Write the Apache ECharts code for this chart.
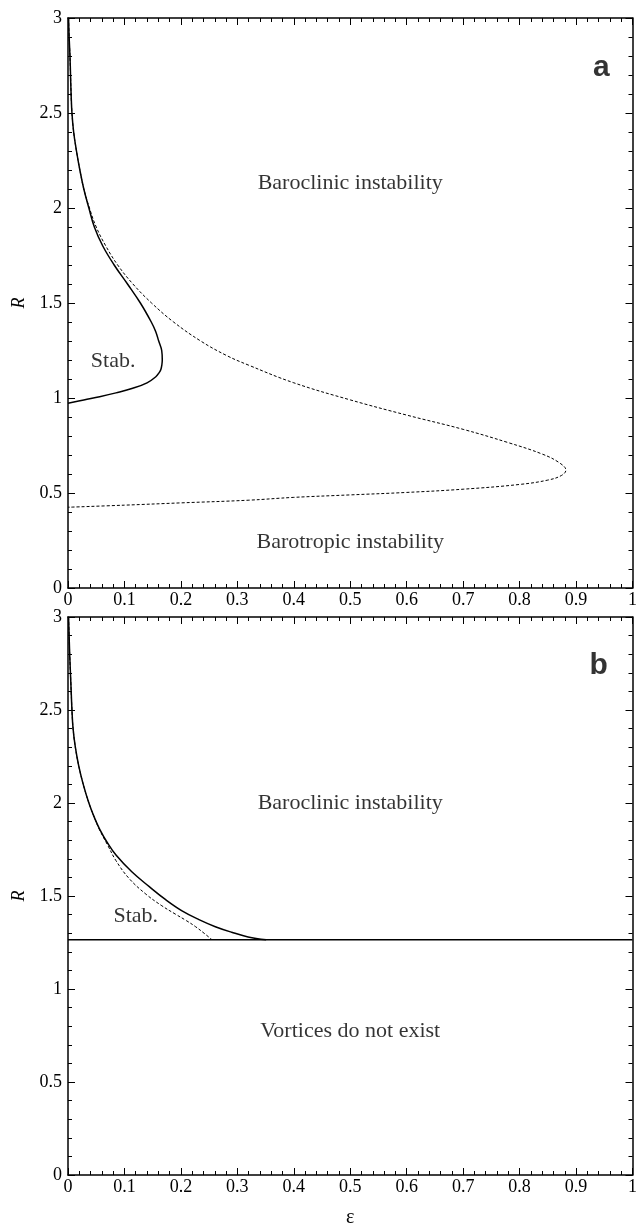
<!DOCTYPE html>
<html>
<head>
<meta charset="utf-8">
<script src="https://cdn.jsdelivr.net/npm/echarts@6/dist/echarts.min.js"></script>
<style>
html,body{margin:0;padding:0;background:#fff;}
#chart{width:640px;height:1229px;}
</style>
</head>
<body>
<div id="chart"></div>
<script>
// ---------- data (epsilon, R) ----------
const aSolid = [[0.001,3.0],[0.002,2.9],[0.0035,2.8],[0.0045,2.7],[0.0055,2.6],[0.007,2.5],[0.010,2.4],[0.015,2.3],[0.021,2.2],[0.028,2.1],[0.037,2.0],[0.0467,1.9],[0.0616,1.8],[0.0818,1.7],[0.1054,1.6],[0.1282,1.5],[0.1475,1.4],[0.1553,1.35],[0.1607,1.3],[0.166,1.25],[0.167,1.2],[0.1663,1.175],[0.1645,1.15],[0.1618,1.135],[0.1556,1.112],[0.14,1.08],[0.1146,1.051],[0.085,1.027],[0.0561,1.007],[0.028,0.99],[0.0,0.972]];
const aDashed = [[0.001,3.0],[0.002,2.9],[0.0035,2.8],[0.0045,2.7],[0.0055,2.6],[0.007,2.5],[0.010,2.4],[0.015,2.3],[0.021,2.2],[0.028,2.1],[0.038,2.0],[0.050,1.9],[0.067,1.8],[0.088,1.7],[0.115,1.6],[0.148,1.5],[0.187,1.4],[0.235,1.3],[0.28,1.225],[0.319,1.174],[0.4,1.08],[0.5,0.99],[0.6,0.91],[0.7,0.835],[0.78,0.765],[0.84,0.705],[0.87,0.66],[0.882,0.62],[0.874,0.592],[0.85,0.568],[0.8,0.545],[0.7,0.52],[0.6,0.503],[0.5,0.49],[0.4,0.477],[0.319,0.462],[0.2,0.448],[0.1,0.436],[0.0,0.425]];
const bSolid = [[0.001,3.0],[0.003,2.8],[0.005,2.65],[0.007,2.5],[0.009,2.4],[0.013,2.3],[0.019,2.2],[0.027,2.1],[0.037,2.0],[0.047,1.92],[0.056,1.86],[0.07,1.785],[0.085,1.72],[0.113,1.63],[0.144,1.55],[0.173,1.48],[0.202,1.42],[0.232,1.373],[0.261,1.335],[0.29,1.305],[0.319,1.28],[0.351,1.265]];
const bDashed = [[0.001,3.0],[0.003,2.8],[0.005,2.65],[0.007,2.5],[0.009,2.4],[0.013,2.3],[0.019,2.2],[0.027,2.1],[0.037,2.0],[0.047,1.92],[0.056,1.855],[0.07,1.775],[0.085,1.69],[0.108,1.595],[0.138,1.51],[0.165,1.45],[0.19,1.403],[0.21,1.367],[0.226,1.335],[0.241,1.30],[0.255,1.265]];
const bLimitR = 1.265;
const bLimit = [[0,bLimitR],[1,bLimitR]];

// annotations: [epsilon, R, text]
const aTexts = [[0.5,2.13,'Baroclinic instability'],[0.08,1.195,'Stab.'],[0.5,0.242,'Barotropic instability']];
const bTexts = [[0.5,2.0,'Baroclinic instability'],[0.12,1.392,'Stab.'],[0.5,0.774,'Vortices do not exist']];
const letters = [[0.945,2.74,'a'],[0.94,2.74,'b']];

const serif = 'Liberation Serif';
const sans = 'Liberation Sans';

function xAxis(grid, bottom, name){
  return {
    type:'value', gridIndex:grid, min:0, max:1, interval:0.1,
    position: bottom ? 'bottom' : 'top',
    name: name || '', nameLocation:'middle', nameGap:33,
    nameTextStyle:{fontFamily:serif, fontSize:20, color:'#000'},
    axisLine:{show:true, onZero:false, lineStyle:{color:'#000', width:1.5}},
    axisTick:{show:true, inside:true, length:7, lineStyle:{color:'#000', width:1}},
    minorTick:{show:true, splitNumber:5, length:4, lineStyle:{color:'#000', width:1}},
    splitLine:{show:false}, minorSplitLine:{show:false},
    axisLabel:{show:bottom, color:'#000', fontFamily:serif, fontSize:18, margin:3}
  };
}
function yAxis(grid, left){
  return {
    type:'value', gridIndex:grid, min:0, max:3, interval:0.5,
    position: left ? 'left' : 'right',
    name: left ? 'R' : '', nameLocation:'middle', nameGap:27,
    nameTextStyle:{fontFamily:serif, fontSize:18, fontStyle:'italic', color:'#000'},
    axisLine:{show:true, onZero:false, lineStyle:{color:'#000', width:1.5}},
    axisTick:{show:true, inside:true, length:7, lineStyle:{color:'#000', width:1}},
    minorTick:{show:true, splitNumber:5, length:4, lineStyle:{color:'#000', width:1}},
    splitLine:{show:false}, minorSplitLine:{show:false},
    axisLabel:{show:left, color:'#000', fontFamily:serif, fontSize:18, margin:6}
  };
}
function line(data, xi, yi, dashed, w){
  return {type:'line', xAxisIndex:xi, yAxisIndex:yi, data:data, showSymbol:false, symbol:'none',
    smooth:0.4, silent:true,
    lineStyle:{color:'#000', width:w, type: dashed ? [3,2] : 'solid'}};
}
function texts(arr, xi, yi, font, size, weight){
  return {type:'scatter', xAxisIndex:xi, yAxisIndex:yi, symbolSize:0, silent:true,
    data: arr.map(d => ({value:[d[0],d[1]], name:d[2]})),
    label:{show:true, position:'inside', formatter:'{b}', color:'#000', textBorderWidth:0,
      fontFamily:font, fontSize:size, fontWeight:weight}};
}

const chart = echarts.init(document.getElementById('chart'), null, {renderer:'canvas'});
chart.setOption({
  animation:false,
  backgroundColor:'#fff',
  grid:[
    {left:68, top:18, width:570, height:570},
    {left:68, top:617, width:570, height:570}
  ],
  xAxis:[xAxis(0,true), xAxis(0,false), xAxis(1,true,'ε'), xAxis(1,false)],
  yAxis:[yAxis(0,true), yAxis(0,false), yAxis(1,true), yAxis(1,false)],
  series:[
    line(aDashed,0,0,true,1),
    line(aSolid,0,0,false,1.5),
    line(bDashed,2,2,true,1),
    line(bSolid,2,2,false,1.5),
    {type:'line', xAxisIndex:2, yAxisIndex:2, data:bLimit, showSymbol:false, symbol:'none', silent:true, lineStyle:{color:'#000', width:1.5}},
    texts(aTexts,0,0,serif,22,'normal'),
    texts(bTexts,2,2,serif,22,'normal'),
    texts([letters[0]],0,0,sans,30,'bold'),
    texts([letters[1]],2,2,sans,30,'bold')
  ]
});
</script>
</body>
</html>
